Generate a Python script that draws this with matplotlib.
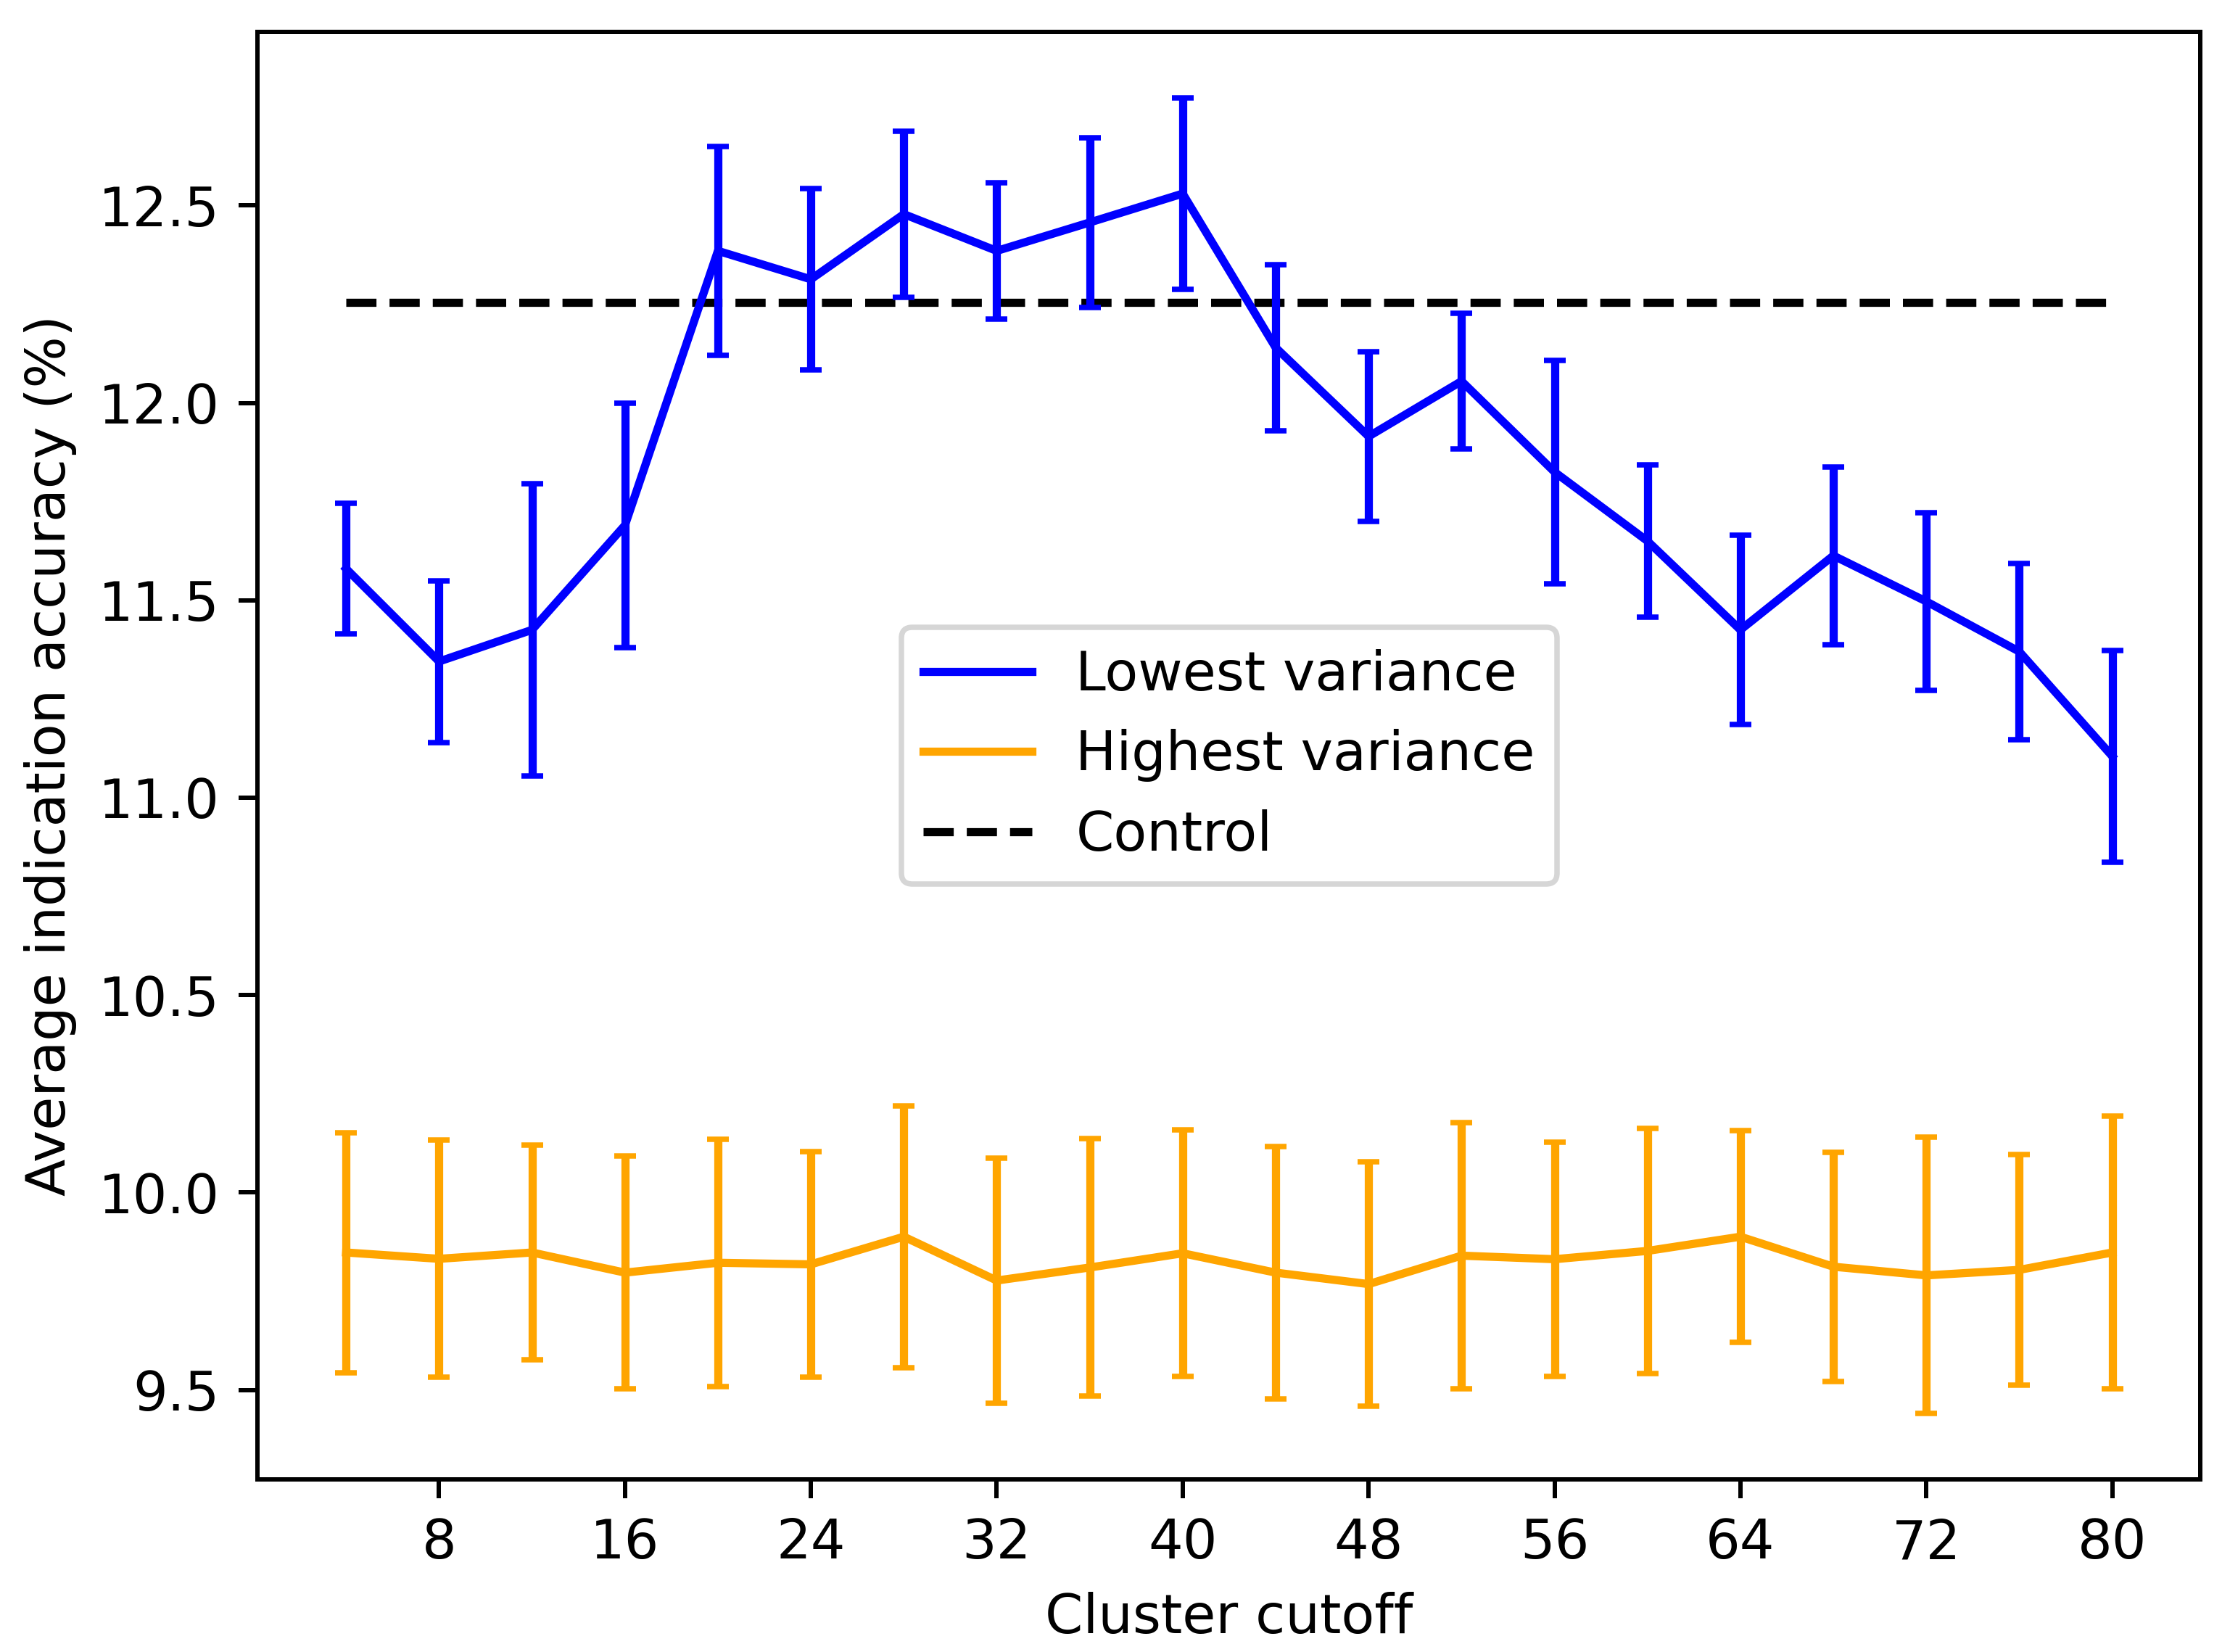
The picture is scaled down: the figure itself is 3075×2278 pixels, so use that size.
import matplotlib
matplotlib.use('Agg')
import matplotlib.pyplot as plt

# Cluster cutoffs
cutoffs = [4, 8, 12, 16, 20, 24, 28, 32, 36, 40, 44, 48, 52, 56, 60, 64, 68, 72, 76, 80]

# Lowest variance: mean accuracy and error
low_mean = [11.58, 11.345, 11.425, 11.69, 12.385, 12.313, 12.478, 12.385, 12.457, 12.53,
            12.14, 11.915, 12.055, 11.825, 11.65, 11.425, 11.613, 11.497, 11.37, 11.105]
low_err = [0.165, 0.205, 0.37, 0.31, 0.265, 0.23, 0.21, 0.173, 0.215, 0.243,
           0.21, 0.215, 0.172, 0.283, 0.193, 0.24, 0.225, 0.225, 0.223, 0.268]

# Highest variance: mean accuracy and error
high_mean = [9.848, 9.832, 9.848, 9.797, 9.822, 9.818, 9.888, 9.777, 9.81, 9.846,
             9.797, 9.768, 9.84, 9.831, 9.852, 9.888, 9.812, 9.79, 9.804, 9.848]
high_err = [0.304, 0.30, 0.272, 0.295, 0.313, 0.286, 0.332, 0.31, 0.326, 0.312,
            0.32, 0.31, 0.337, 0.296, 0.31, 0.268, 0.29, 0.35, 0.292, 0.346]

# Control accuracy
control = 12.255

fig = plt.figure(figsize=(3075 / 540, 2278 / 540), dpi=540)
ax = fig.add_axes([0.1156, 0.1045, 0.9868 - 0.1156, 0.9807 - 0.1045])

# Control line first so the error bars sit on top of it
h_ctrl, = ax.plot([cutoffs[0], cutoffs[-1]], [control, control], 'k--', label='Control')
h_low, = ax.plot(cutoffs, low_mean, color='blue', label='Lowest variance')
h_high, = ax.plot(cutoffs, high_mean, color='orange', label='Highest variance')
ax.errorbar(cutoffs, low_mean, yerr=low_err, fmt='none', ecolor='blue', capsize=2)
ax.errorbar(cutoffs, high_mean, yerr=high_err, fmt='none', ecolor='orange', capsize=2)

ax.set_xticks(range(8, 81, 8))
ax.set_xlabel('Cluster cutoff')
ax.set_ylabel('Average indication accuracy (%)')
ax.legend(handles=[h_low, h_high, h_ctrl], loc='center')

fig.savefig('out.png', dpi=540)
